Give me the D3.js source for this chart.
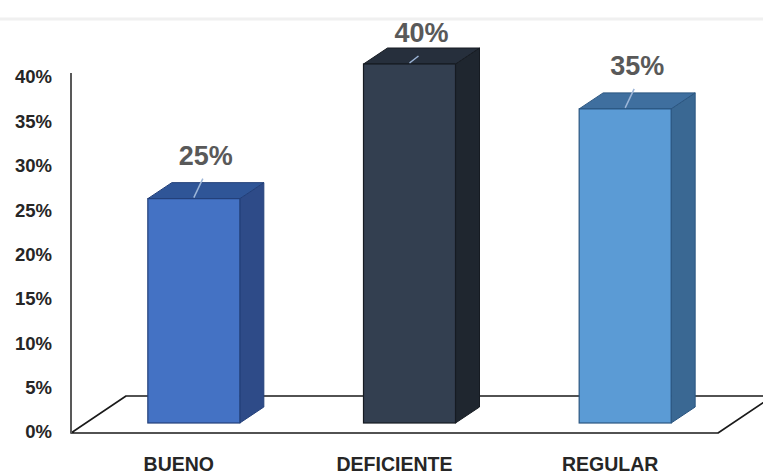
<!DOCTYPE html>
<html>
<head>
<meta charset="utf-8">
<script src="https://cdn.jsdelivr.net/npm/d3@7"></script>
<style>
  html, body { margin: 0; padding: 0; background: #fff; }
  svg { display: block; }
</style>
</head>
<body>
<svg id="chart" width="763" height="474"></svg>
<script>
// ---- data ----
const categories = ["BUENO", "DEFICIENTE", "REGULAR"];
const values = [0.25, 0.40, 0.35];
const valueLabels = ["25%", "40%", "35%"];
const tickValues = [0, 0.05, 0.10, 0.15, 0.20, 0.25, 0.30, 0.35, 0.40];
const frontColors = ["#4472C4", "#333F50", "#5B9BD5"];
const topColors = ["#2F5597", "#262F3C", "#3F6F9F"];
const sideColors = ["#2E4B88", "#1F262F", "#3A6893"];
const strokeColors = ["#23407A", "#161B22", "#2A5580"];

// ---- layout ----
const W = 763, H = 474;
const floorLeft = 71, floorRight = 718, floorFront = 433;
const floorDx = 55, floorDy = -37;
const barInset = [15, -10];   // bar front offset into floor depth
const barDepth = [24, -16];   // bar depth
const barWidth = 92;

const svg = d3.select("#chart");

// faint scan artifact line at top
svg.append("line").attr("x1", 0).attr("x2", W).attr("y1", 19).attr("y2", 19)
  .attr("stroke", "#f0f0f0").attr("stroke-width", 3);

const x = d3.scaleBand().domain(categories).range([floorLeft, floorRight]).padding(0);
const yAxis = d3.scaleLinear().domain([0, 0.40]).range([432, 77]);
const yBar = d3.scaleLinear().domain([0, 0.40]).range([floorFront + barInset[1], 64]);

// floor
const floorPts = [
  [floorLeft, floorFront],
  [floorRight, floorFront],
  [floorRight + floorDx, floorFront + floorDy],
  [floorLeft + floorDx, floorFront + floorDy]
];
svg.append("polygon")
  .attr("points", floorPts.map(p => p.join(",")).join(" "))
  .attr("fill", "#fff").attr("stroke", "#1a1a1a").attr("stroke-width", 1.6)
  .attr("stroke-linejoin", "round");

// vertical axis line
svg.append("line")
  .attr("x1", floorLeft).attr("x2", floorLeft)
  .attr("y1", yAxis(0.40) - 4).attr("y2", floorFront)
  .attr("stroke", "#595959").attr("stroke-width", 2);

// y tick labels via d3 axis
const axisG = svg.append("g").attr("transform", `translate(${floorLeft},0)`)
  .call(d3.axisLeft(yAxis).tickValues(tickValues).tickFormat(d3.format(".0%")).tickSize(0).tickPadding(19));
axisG.select(".domain").remove();
axisG.selectAll("text")
  .attr("font-family", "'Liberation Sans', Arial, sans-serif")
  .attr("font-weight", "bold").attr("font-size", 18.5).attr("fill", "#262626");

// bars
const bars = svg.append("g");
categories.forEach((c, i) => {
  const x0 = x(c) + (x.bandwidth() - barWidth) / 2 + barInset[0];
  const x1 = x0 + barWidth;
  const yb = yBar(0);
  const yt = yBar(values[i]);
  const [dx, dy] = barDepth;
  const g = bars.append("g");
  // side
  g.append("polygon")
    .attr("points", [[x1, yb], [x1 + dx, yb + dy], [x1 + dx, yt + dy], [x1, yt]].map(p => p.join(",")).join(" "))
    .attr("fill", sideColors[i]).attr("stroke", strokeColors[i]).attr("stroke-width", 1).attr("stroke-linejoin", "round");
  // top
  g.append("polygon")
    .attr("points", [[x0, yt], [x1, yt], [x1 + dx, yt + dy], [x0 + dx, yt + dy]].map(p => p.join(",")).join(" "))
    .attr("fill", topColors[i]).attr("stroke", strokeColors[i]).attr("stroke-width", 1).attr("stroke-linejoin", "round");
  // front
  g.append("rect")
    .attr("x", x0).attr("y", yt).attr("width", barWidth).attr("height", yb - yt)
    .attr("fill", frontColors[i]).attr("stroke", strokeColors[i]).attr("stroke-width", 1.2);

  // data label
  const lx = (x0 + x1) / 2 + dx / 2;
  const ly = Math.max(yt + dy - 18, 42);
  g.append("line")
    .attr("x1", lx - 3).attr("y1", ly + 14)
    .attr("x2", (x0 + x1) / 2).attr("y2", yt - 1)
    .attr("stroke", "#9DB6D8").attr("stroke-width", 1.5);
  svg.append("text")
    .attr("x", lx).attr("y", ly)
    .attr("text-anchor", "middle")
    .attr("font-family", "'Liberation Sans', Arial, sans-serif")
    .attr("font-weight", "bold").attr("font-size", 27)
    .attr("fill", "#595959")
    .text(valueLabels[i]);
});

// category labels
svg.append("g").selectAll("text").data(categories).join("text")
  .attr("x", d => x(d) + x.bandwidth() / 2)
  .attr("y", 471)
  .attr("text-anchor", "middle")
  .attr("font-family", "'Liberation Sans', Arial, sans-serif")
  .attr("font-weight", "bold").attr("font-size", 19.5)
  .attr("fill", "#262626")
  .text(d => d);
</script>
</body>
</html>
